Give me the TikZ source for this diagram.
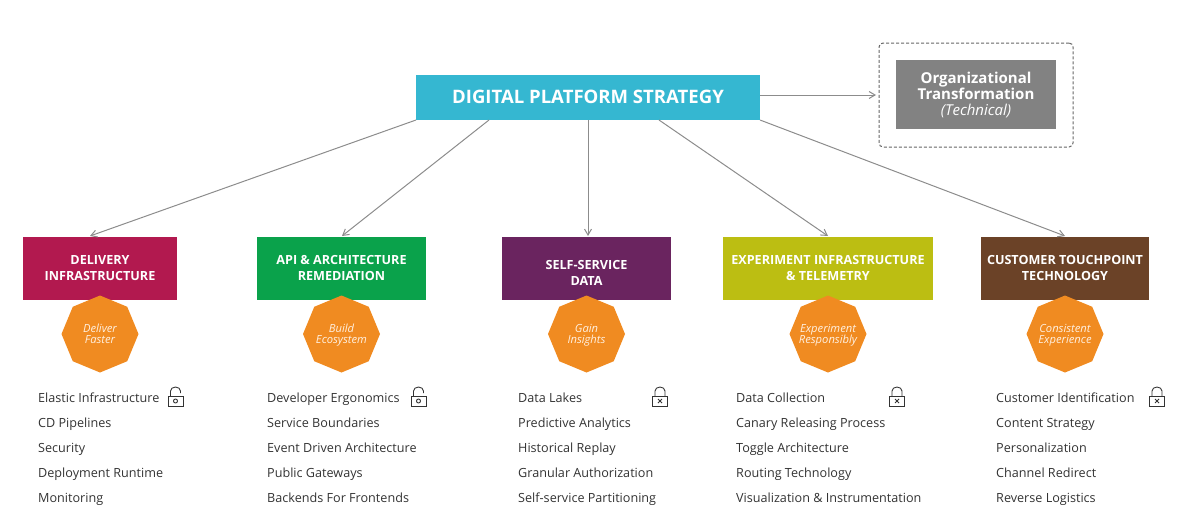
\documentclass[tikz,border=0pt]{standalone}
\usepackage{fontspec}
\setmainfont{Open Sans}
\usetikzlibrary{shapes.geometric,calc,arrows.meta}
\definecolor{ctop}{HTML}{35B7D1}
\definecolor{cone}{HTML}{B2194F}
\definecolor{ctwo}{HTML}{0AA24B}
\definecolor{cthree}{HTML}{6A245F}
\definecolor{cfour}{HTML}{BCBE12}
\definecolor{cfive}{HTML}{6B4227}
\definecolor{corange}{HTML}{F08B21}
\definecolor{cgrey}{HTML}{828282}
\definecolor{cline}{HTML}{8C8C8C}
\definecolor{ctext}{HTML}{333333}
\newcommand{\hdr}[2]{\rule{0pt}{13.2pt}#1\\\strut #2}
\newcommand{\octt}[2]{\smash{\makebox[0pt]{\raisebox{-4.2pt}{\renewcommand{\arraystretch}{0.95}\begin{tabular}{@{}c@{}}#1\\#2\end{tabular}}}}}
\tikzset{
 x=1pt,y=-1pt,
 boxn/.style={anchor=north west,inner sep=0pt,outer sep=0pt,align=center,text=white,font=\fontsize{12.6}{16}\selectfont\bfseries},
 octa/.style={regular polygon,regular polygon sides=8,shape border rotate=22.5,fill=corange,minimum size=77pt,inner sep=0pt,outer sep=0pt,text=white!88!orange,font=\fontsize{11.2}{11.5}\selectfont\itshape},
 item/.style={anchor=base west,inner sep=0pt,text=ctext,font=\fontsize{12.62}{16}\selectfont},
 conn/.style={draw=cline,line width=1pt,-{Straight Barb[length=6pt,width=7pt]}},
 lockbody/.style={draw=ctext,line width=0.9pt},
 openlock/.pic={
  \draw[lockbody] (-7.5,-1) rectangle (7.5,9);
  \draw[lockbody] (-5,-1) -- (-5,-6) arc[start angle=180,end angle=0,x radius=5,y radius=-4] -- (5,-4);
  \draw[lockbody] (0,4) circle[radius=2];
 },
 closedlock/.pic={
  \draw[lockbody] (-7.5,-1) rectangle (7.5,9);
  \draw[lockbody] (-5,-1) -- (-5,-6) arc[start angle=180,end angle=0,x radius=5,y radius=-4] -- (5,-1);
  \draw[lockbody] (-2,2) -- (2,6) (-2,6) -- (2,2);
 }
}
\begin{document}
\begin{tikzpicture}
\useasboundingbox (0,0) rectangle (1200,528);
\node[boxn,minimum width=344pt,minimum height=45pt,fill=ctop,font=\fontsize{18.55}{20}\selectfont\bfseries] (top) at (416,75) {\rule[-2pt]{0pt}{0pt}DIGITAL PLATFORM STRATEGY};
\node[anchor=north west,inner sep=0pt,outer sep=0pt,minimum width=194pt,minimum height=104pt,draw=ctext!75,dash pattern=on 3pt off 2pt,line width=1pt,rounded corners=4pt] (dash) at (879,43) {};
\node[boxn,minimum width=160pt,minimum height=69pt,fill=cgrey,font=\fontsize{15}{16}\selectfont\bfseries] (org) at (896,60) {\rule{0pt}{12.4pt}Organizational\\Transformation\\[0.5pt]{\mdseries\itshape (Technical)}};
\node[boxn,minimum width=154pt,minimum height=63pt,fill=cone] (d1) at (23,237) {\hdr{DELIVERY}{INFRASTRUCTURE}};
\node[boxn,minimum width=169pt,minimum height=63pt,fill=ctwo] (d2) at (257,237) {\hdr{API \& ARCHITECTURE}{REMEDIATION}};
\node[boxn,minimum width=169pt,minimum height=63pt,fill=cthree] (d3) at (502,237) {\rule{0pt}{22.2pt}SELF-SERVICE\\\strut DATA};
\node[boxn,minimum width=210pt,minimum height=63pt,fill=cfour] (d4) at (723,237) {\hdr{EXPERIMENT INFRASTRUCTURE}{\& TELEMETRY}};
\node[boxn,minimum width=168pt,minimum height=63pt,fill=cfive] (d5) at (981,237) {\hdr{CUSTOMER TOUCHPOINT}{TECHNOLOGY}};
\node[octa] (o1) at (100,334) {\octt{Deliver}{Faster}};
\node[octa] (o2) at (341.5,334) {\octt{Build}{Ecosystem}};
\node[octa] (o3) at (586.5,334) {\octt{Gain}{Insights}};
\node[octa] (o4) at (828,334) {\octt{Experiment}{Responsibly}};
\node[octa] (o5) at (1065,334) {\octt{Consistent}{Experience}};
\draw[conn,shorten >=3pt] (top.east |- dash.west) -- (dash.west);
\draw[conn] (top.south west) -- ($(d1.north)+(-10,-1)$);
\draw[conn] ($(top.south west)+(73,0)$) -- ($(d2.north)+(0.5,-1)$);
\draw[conn] ($(top.south west)+(172,0)$) -- ($(d3.north)+(1.5,-1)$);
\draw[conn] ($(top.south west)+(243,0)$) -- ($(d4.north)+(0,-1)$);
\draw[conn] (top.south east) -- ($(d5.north)+(0,-1)$);
\foreach \px/\tx [count=\c] in {38/{Elastic Infrastructure,CD Pipelines,Security,Deployment Runtime,Monitoring},
 267/{Developer Ergonomics,Service Boundaries,Event Driven Architecture,Public Gateways,Backends For Frontends},
 518/{Data Lakes,Predictive Analytics,Historical Replay,Granular Authorization,Self-service Partitioning},
 736/{Data Collection,Canary Releasing Process,Toggle Architecture,Routing Technology,Visualization \& Instrumentation},
 996/{Customer Identification,Content Strategy,Personalization,Channel Redirect,Reverse Logistics}}{
  \foreach \t [count=\r] in \tx {
    \node[item] (i\c r\r) at (\px,{377+25*\r}) {\t};
  }
}
\pic at (175.5,397) {openlock};
\pic at (418.5,397) {openlock};
\pic at (660,397) {closedlock};
\pic at (897,397) {closedlock};
\pic at (1157,397) {closedlock};
\end{tikzpicture}
\end{document}
